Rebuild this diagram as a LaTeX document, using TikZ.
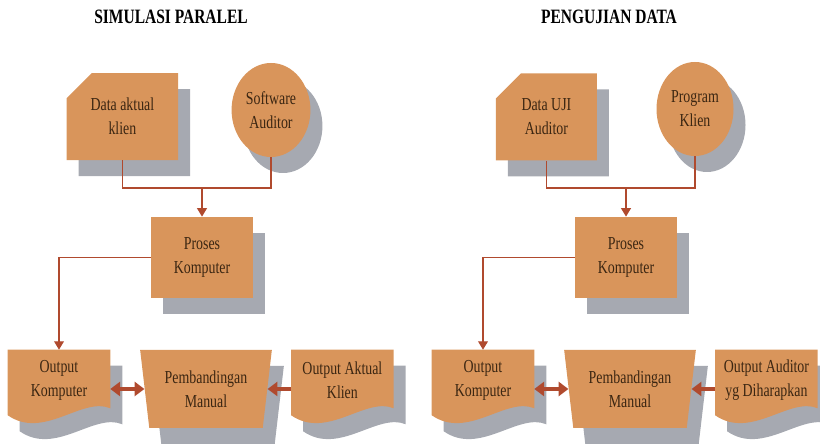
\documentclass[tikz,border=0pt]{standalone}
\usepackage{fontspec}
\usepackage{tikz}
\usetikzlibrary{calc,arrows.meta,shapes.geometric,shapes.misc,shadows,backgrounds}
\newfontfamily\diagfont[FakeStretch=0.76]{Liberation Serif}
\definecolor{boxfill}{HTML}{D9955B}
\definecolor{boxtext}{HTML}{3B2612}
\definecolor{shadowgray}{HTML}{A6A9B1}
\definecolor{wire}{HTML}{B04A2E}
\tikzset{
  lbl/.style={text=boxtext, font=\diagfont\fontsize{13}{17}\selectfont, align=center, inner sep=2pt},
  titletext/.style={text=black, font=\diagfont\bfseries\fontsize{14.5}{16}\selectfont},
  shade/.style={drop shadow={shadow xshift=0.3cm, shadow yshift=-0.4cm, fill=shadowgray, opacity=1}},
  cardbox/.style={lbl, shade, fill=boxfill, chamfered rectangle, chamfered rectangle corners=north west,
    chamfered rectangle xsep=0.58cm, minimum width=2.525cm, minimum height=2.175cm},
  ovalbox/.style={lbl, shade, fill=boxfill, ellipse, minimum width=1.925cm, minimum height=2.35cm},
  procbox/.style={lbl, shade, fill=boxfill, rectangle, minimum width=2.55cm, minimum height=2.025cm},
  docbox/.style={lbl, rectangle, minimum width=2.55cm, minimum height=1.5cm},
  tradebox/.style={lbl, shade, fill=boxfill, trapezium, trapezium left angle=80.5, trapezium right angle=80.5,
    shape border rotate=180, trapezium stretches=true, minimum width=3.3cm, minimum height=1.95cm},
  link/.style={draw=wire, line width=0.9pt},
  linkarrow/.style={link, -{Triangle[width=7pt,length=6pt]}},
  bigarrow/.style={draw=wire, line width=2.2pt, -{Triangle[width=10pt,length=7pt]}},
  biarrow/.style={bigarrow, {Triangle[width=10pt,length=7pt]}-{Triangle[width=10pt,length=7pt]}}
}

\begin{document}
\begin{tikzpicture}
  \useasboundingbox (0,0) rectangle (20.5,11.125);

  % simulasi paralel
  \node[titletext] (titleL) at (4.275,10.7) {SIMULASI PARALEL};
  \node[cardbox] (dataL) at (3.06,8.21) {Data aktual\\klien};
  \node[ovalbox] (softL) at (6.775,8.375) {Software\\Auditor};
  \node[procbox] (prosesL) at (5.05,4.69) {Proses\\Komputer};
  \node[docbox] (okL) at (1.475,1.625) {Output\\Komputer};
  \node[tradebox] (pbL) at (5.15,1.4) {Pembandingan\\Manual};
  \node[docbox] (oaL) at (8.56,1.625) {Output Aktual\\Klien};
  \coordinate (jL) at (5.05,6.425);

  \draw[link] (dataL.south) |- (jL) -| (softL.south);
  \draw[linkarrow] (jL) -- (prosesL.north);
  \draw[linkarrow] (prosesL.west) -| (okL.north);
  \draw[biarrow] (okL.east |- pbL.west) -- (pbL.west);
  \draw[bigarrow] (oaL.west |- pbL.east) -- (pbL.east);

  % pengujian data
  \begin{scope}[xshift=10.6cm]
    \node[titletext] (titleR) at (4.625,10.7) {PENGUJIAN DATA};
    \node[cardbox] (dataR) at (3.06,8.2) {Data UJI\\Auditor};
    \node[ovalbox] (progR) at (6.775,8.4) {Program\\Klien};
    \node[procbox] (prosesR) at (5.05,4.69) {Proses\\Komputer};
    \node[docbox] (okR) at (1.475,1.625) {Output\\Komputer};
    \node[tradebox] (pbR) at (5.15,1.4) {Pembandingan\\Manual};
    \node[docbox] (oaR) at (8.56,1.625) {Output Auditor\\yg Diharapkan};
    \coordinate (jR) at (5.05,6.425);

    \draw[link] (dataR.south) |- (jR) -| (progR.south);
    \draw[linkarrow] (jR) -- (prosesR.north);
    \draw[linkarrow] (prosesR.west) -| (okR.north);
    \draw[biarrow] (okR.east |- pbR.west) -- (pbR.west);
    \draw[bigarrow] (oaR.west |- pbR.east) -- (pbR.east);
  \end{scope}

  % document shapes behind their labels
  \begin{scope}[on background layer]
    \foreach \d in {okL,oaL,okR,oaR} {
      \fill[shadowgray, transform canvas={xshift=0.3cm,yshift=-0.4cm}]
        (\d.north west) -- (\d.north east) -- ($(\d.south east)+(0,0.05)$)
        .. controls ($(\d.south east)+(-0.7,0.35)$) and ($(\d.south west)+(0.9,-0.75)$)
        .. ($(\d.south west)+(0,-0.125)$) -- cycle;
      \fill[boxfill]
        (\d.north west) -- (\d.north east) -- ($(\d.south east)+(0,0.05)$)
        .. controls ($(\d.south east)+(-0.7,0.35)$) and ($(\d.south west)+(0.9,-0.75)$)
        .. ($(\d.south west)+(0,-0.125)$) -- cycle;
    }
  \end{scope}
\end{tikzpicture}
\end{document}
